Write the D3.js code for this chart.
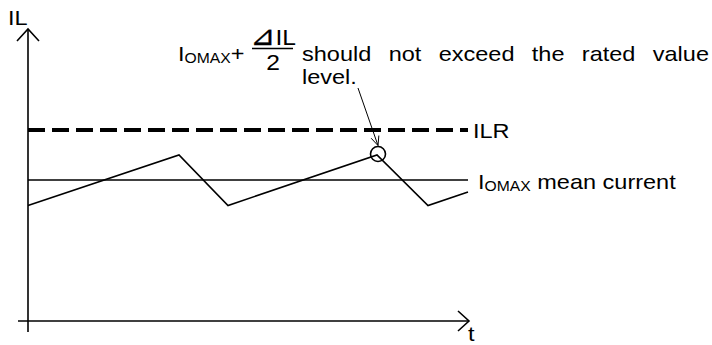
<!DOCTYPE html>
<html><head><meta charset="utf-8">
<script src="https://cdn.jsdelivr.net/npm/d3@7"></script>
<style>
html,body{margin:0;padding:0;background:#fff;}
svg text{font-family:Arial,"Liberation Sans",sans-serif;fill:#000;}
</style>
</head><body>
<svg id="c" width="712" height="345"></svg>
<script>
// ---- data (time units / current units) ----
const rippleTime    = [0, 151, 200, 349, 400, 440];
const rippleCurrent = [115.5, 166, 115.5, 166, 115.5, 129];
const ratedLevel = [191];          // ILR
const meanLevel  = [141];          // IOMAX mean current
const peakMarkIndex = [3];         // circled peak
const axisLabels = ["IL", "t"];
const lineLabels = ["ILR", "mean current"];
const noteWords = ["should", "not", "exceed", "the", "rated", "value"];
const noteLine2 = ["level."];

const svg = d3.select("#c");
const x = d3.scaleLinear().domain([0, 440]).range([28, 468]);
const y = d3.scaleLinear().domain([0, 292]).range([321, 29]);
const SX = 1.12, FS = 21;
function txt(px, py, anchor) {
  return svg.append("text").attr("transform", `translate(${px},${py}) scale(${SX},1)`)
    .attr("font-size", FS).attr("text-anchor", anchor || "start");
}

const ink = "#000";
// axes
const x0 = x(0), y0 = y(0);
svg.append("line").attr("x1", x0).attr("y1", y0 + 11).attr("x2", x0).attr("y2", y(292))
  .attr("stroke", ink).attr("stroke-width", 1.6);
svg.append("path").attr("d", `M${x0-11},${y(292)+12}L${x0},${y(292)}L${x0+11},${y(292)+12}`)
  .attr("fill", "none").attr("stroke", ink).attr("stroke-width", 1.6);
const xEnd = x(441);
svg.append("line").attr("x1", x0 - 10).attr("y1", y0).attr("x2", xEnd).attr("y2", y0)
  .attr("stroke", ink).attr("stroke-width", 1.6);
svg.append("path").attr("d", `M${xEnd-11},${y0-10}L${xEnd},${y0}L${xEnd-11},${y0+10}`)
  .attr("fill", "none").attr("stroke", ink).attr("stroke-width", 1.6);

txt(8, 25).text(axisLabels[0]);
txt(468, 341).text(axisLabels[1]);

// rated level dashed
svg.append("line").attr("x1", x(0)).attr("x2", x(440))
  .attr("y1", y(ratedLevel[0])).attr("y2", y(ratedLevel[0]))
  .attr("stroke", ink).attr("stroke-width", 4).attr("stroke-dasharray", "17,7");
txt(473, y(ratedLevel[0]) + 8).text(lineLabels[0]);

// mean level
svg.append("line").attr("x1", x(0)).attr("x2", x(440))
  .attr("y1", y(meanLevel[0])).attr("y2", y(meanLevel[0]))
  .attr("stroke", ink).attr("stroke-width", 1.6);
const ml = txt(478, y(meanLevel[0]) + 9);
ml.append("tspan").text("I");
ml.append("tspan").attr("font-size", 14).attr("dy", 2).text("OMAX");
ml.append("tspan").attr("dy", -2).text(" " + lineLabels[1]);

// ripple
const pts = rippleTime.map((t, i) => [t, rippleCurrent[i]]);
svg.append("path").datum(pts)
  .attr("d", d3.line().x(d => x(d[0])).y(d => y(d[1])))
  .attr("fill", "none").attr("stroke", ink).attr("stroke-width", 1.6);

// circled peak
const pk = pts[peakMarkIndex[0]];
const cx = x(pk[0]) + 1, cy = y(pk[1]) - 1;
svg.append("circle").attr("cx", cx).attr("cy", cy).attr("r", 7.5)
  .attr("fill", "none").attr("stroke", ink).attr("stroke-width", 1.6);

// pointer
const tipX = cx, tipY = cy - 8.5, sx = 358, sy = 88;
svg.append("line").attr("x1", sx).attr("y1", sy).attr("x2", tipX).attr("y2", tipY)
  .attr("stroke", ink).attr("stroke-width", 1);
const ang = Math.atan2(tipY - sy, tipX - sx);
const hl = 10, ha = 0.42;
svg.append("path").attr("d",
  `M${tipX - hl*Math.cos(ang-ha)},${tipY - hl*Math.sin(ang-ha)}L${tipX},${tipY}L${tipX - hl*Math.cos(ang+ha)},${tipY - hl*Math.sin(ang+ha)}`)
  .attr("fill", "none").attr("stroke", ink).attr("stroke-width", 1);

// annotation
const an = txt(178, 61);
an.append("tspan").text("I");
an.append("tspan").attr("font-size", 14).attr("dy", 2).text("OMAX");
an.append("tspan").attr("dy", -2).text("+");
const fr = txt(273, 45, "middle").attr("font-size", 22);
fr.append("tspan").attr("font-family", "DejaVu Sans").attr("font-size", 27)
  .attr("stroke", ink).attr("stroke-width", 0.3).text("⊿");
fr.append("tspan").text("IL");
svg.append("line").attr("x1", 252).attr("x2", 293).attr("y1", 48.5).attr("y2", 48.5)
  .attr("stroke", ink).attr("stroke-width", 1.6);
txt(273, 70, "middle").attr("font-size", 22).text("2");

const l1 = txt(302, 61).text(noteWords.join(" "));
const w = l1.node().getComputedTextLength();
l1.attr("word-spacing", ((709 - 302) / SX - w) / (noteWords.length - 1));
txt(302, 84).text(noteLine2[0]);
</script>
</body></html>
